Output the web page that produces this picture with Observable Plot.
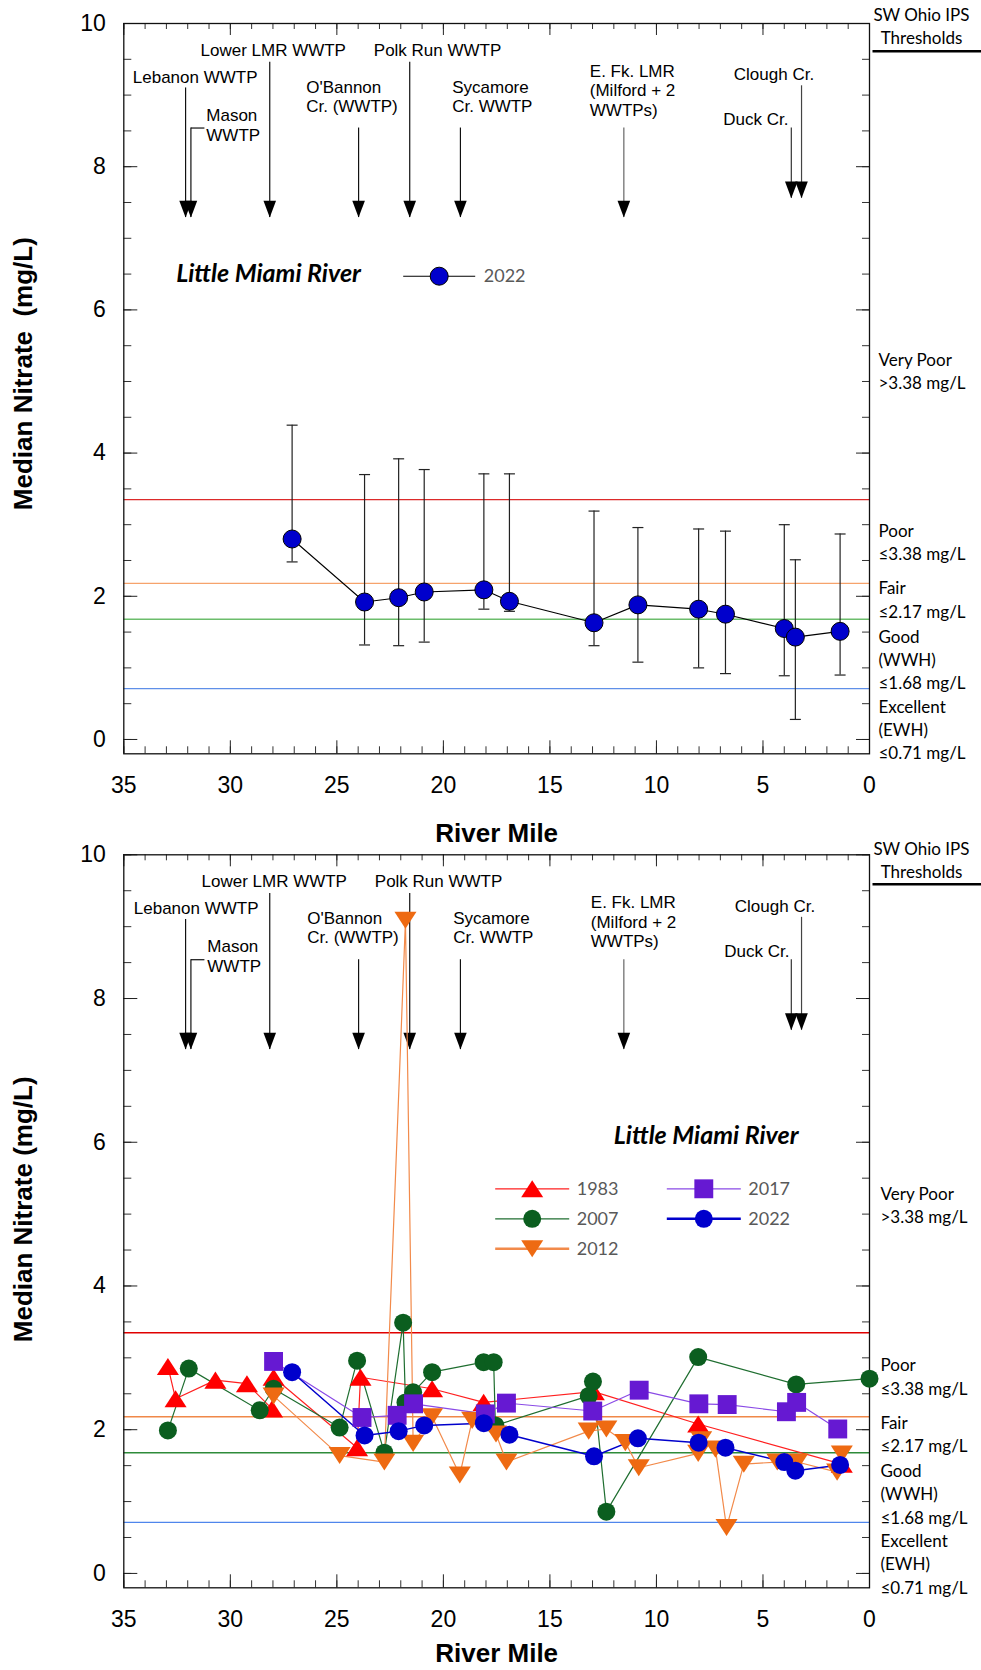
<!DOCTYPE html>
<html><head><meta charset="utf-8">
<script src="https://cdn.jsdelivr.net/npm/d3@7"></script>
<script src="https://cdn.jsdelivr.net/npm/@observablehq/plot@0.6"></script>
<style>
body{margin:0;background:#fff;}
#wrap{position:relative;width:981px;height:1670px;overflow:hidden;background:#fff;}
#wrap svg{position:absolute;left:0;}
</style></head><body><div id="wrap"></div>
<script>
// ---------- DATA ----------
// 2022 (panel 1 and panel 2): river mile, median, error-bar range
const mile2022   = [27.1, 23.7, 22.1, 20.9, 18.1, 16.9, 12.93, 10.87, 8.02, 6.76, 4.0, 3.48, 1.38];
const median2022 = [2.80, 1.92, 1.98, 2.06, 2.09, 1.93, 1.63, 1.88, 1.82, 1.75, 1.55, 1.43, 1.51];
const upper2022  = [4.39, 3.70, 3.92, 3.77, 3.71, 3.71, 3.19, 2.96, 2.94, 2.91, 3.00, 2.51, 2.87];
const lower2022  = [2.48, 1.32, 1.31, 1.36, 1.82, 1.79, 1.31, 1.08, 1.00, 0.92, 0.89, 0.28, 0.90];

const mile1983    = [32.93, 32.57, 30.70, 29.22, 28.04, 27.97, 24.05, 23.89, 20.53, 18.11, 12.94, 8.04, 1.3];
const nitrate1983 = [2.88, 2.43, 2.69, 2.64, 2.29, 2.73, 1.75, 2.73, 2.57, 2.38, 2.53, 2.08, 1.52];

const mile2007    = [32.93, 31.95, 28.62, 27.97, 24.87, 24.05, 22.77, 21.89, 21.78, 21.42, 20.53, 18.11, 17.64, 17.56, 13.18, 12.98, 12.35, 8.04, 3.44, 0.0];
const nitrate2007 = [1.99, 2.85, 2.27, 2.57, 2.03, 2.96, 1.68, 3.49, 2.38, 2.52, 2.80, 2.94, 2.94, 2.06, 2.47, 2.67, 0.86, 3.01, 2.63, 2.71];

const mile2012    = [27.97, 24.87, 22.77, 21.78, 21.42, 20.53, 19.23, 18.65, 17.53, 17.04, 13.18, 12.35, 11.46, 10.83, 8.04, 7.9, 7.23, 6.71, 5.90, 4.33, 3.39, 1.52, 1.3];
const nitrate2012 = [2.47, 1.64, 1.55, 9.09, 1.81, 2.18, 1.37, 2.13, 1.94, 1.55, 1.98, 2.01, 1.82, 1.47, 1.67, 1.86, 1.73, 0.64, 1.52, 1.55, 1.55, 1.41, 1.66];

const mile2017    = [27.97, 23.82, 22.17, 21.40, 18.03, 17.04, 12.99, 10.81, 8.01, 6.68, 3.90, 3.42, 1.49];
const nitrate2017 = [2.95, 2.17, 2.20, 2.36, 2.22, 2.37, 2.26, 2.55, 2.36, 2.35, 2.25, 2.38, 2.01];

// inflows (arrows)
const inflowNames = ["Lebanon WWTP", "Mason\nWWTP", "Lower LMR WWTP", "O'Bannon\nCr. (WWTP)", "Polk Run WWTP",
                     "Sycamore\nCr. WWTP", "E. Fk. LMR\n(Milford + 2\nWWTPs)", "Duck Cr.", "Clough Cr."];
const inflowMiles = [32.1, 31.85, 28.15, 23.98, 21.58, 19.2, 11.53, 3.67, 3.19];

// thresholds
const thresholdValues = [3.35, 2.18, 1.68, 0.71];
const thresholdText = ["Very Poor", ">3.38 mg/L", "Poor", "≤3.38 mg/L", "Fair", "≤2.17 mg/L", "Good", "(WWH)",
                       "≤1.68 mg/L", "Excellent", "(EWH)", "≤0.71 mg/L"];

// ticks
const yTickLabels = [0, 2, 4, 6, 8, 10];
const xTickLabels = [35, 30, 25, 20, 15, 10, 5, 0];
const yMinorTicks = d3.range(0, 10.01, 0.5);
const xMinorTicks = d3.range(0, 36, 1);

// ---------- LAYOUT / STYLE ----------
const ARIAL = "'Liberation Sans', Arial, sans-serif";
const LATO = "Lato, 'Open Sans', sans-serif";
const ML = 123.3, MR = 112, W = 981;
const FW = W - ML - MR;

const inflowTop = [9.10, 8.54, 9.46, 8.54, 9.46, 8.54, 8.54, 8.54, 9.13];
const inflowTip = [7.29, 7.29, 7.29, 7.29, 7.29, 7.29, 7.29, 7.56, 7.56];
const inflowLabel = [
  {dx: 9, dy: 59.2, lh: 20}, {dx: 82.5, dy: 97.5, lh: 20}, {dx: 76.7, dy: 32.5, lh: 20},
  {dx: 182.4, dy: 69.2, lh: 19}, {dx: 250, dy: 32.5, lh: 20}, {dx: 328.4, dy: 69.2, lh: 19},
  {dx: 466, dy: 53.2, lh: 19.7}, {dx: 599.4, dy: 101.9, lh: 20}, {dx: 610, dy: 56.9, lh: 20}
];
const inflowStroke = ["#111", "#111", "#111", "#111", "#111", "#111", "#666", "#333", "#444"];
const thresholdDy = [337, 360, 508, 531.3, 565.3, 588.7, 613.7, 637, 660.3, 683.7, 707, 730.3];

function sym(fn) { return {draw(c, s) { fn(c, Math.sqrt(s / Math.PI)); }}; }
const triUp = sym((c, r) => { const w = 2.45 * r, h = 1.9 * r; c.moveTo(0, -h / 2); c.lineTo(w / 2, h / 2); c.lineTo(-w / 2, h / 2); c.closePath(); });
const triDown = sym((c, r) => { const w = 2.45 * r, h = 1.9 * r; c.moveTo(0, h / 2); c.lineTo(w / 2, -h / 2); c.lineTo(-w / 2, -h / 2); c.closePath(); });
const square = sym((c, r) => { const a = 1.05 * r; c.moveTo(-a, -a); c.lineTo(a, -a); c.lineTo(a, a); c.lineTo(-a, a); c.closePath(); });
const arrowHead = sym((c, r) => { const w = 2.1 * r, h = 2.8 * r; c.moveTo(0, 0); c.lineTo(w / 2, -h); c.lineTo(-w / 2, -h); c.closePath(); });
const capSym = sym((c, r) => { c.moveTo(-r, 0); c.lineTo(r, 0); });
const seg = (a, b) => ({draw(c) { c.moveTo(a, 0); c.lineTo(b, 0); }});

function txt(str, anchor, dx, dy, o = {}) {
  return Plot.text([0], {x: null, y: null, text: () => str, frameAnchor: anchor, dx, dy,
    textAnchor: "start", lineAnchor: "middle", fontFamily: ARIAL, fontSize: 17, fill: "#000", ...o});
}
function glyph(anchor, dx, dy, o) {
  return Plot.dot([0], {x: null, y: null, frameAnchor: anchor, dx, dy, ...o});
}

function basePanel(cfg) {
  const fh = cfg.height - cfg.marginTop - cfg.marginBottom;
  const m = [];
  // threshold lines
  thresholdValues.forEach((v, i) => m.push(Plot.ruleY([v], {stroke: cfg.threshColors[i], strokeWidth: 1.4})));
  // ticks (inward)
  m.push(Plot.tickY(yMinorTicks, {y: d => d, insetRight: FW - 8, stroke: "#333"}));
  m.push(Plot.tickY(yTickLabels, {y: d => d, insetRight: FW - 14, stroke: "#222"}));
  m.push(Plot.tickY(yMinorTicks, {y: d => d, insetLeft: FW - 7, stroke: "#333"}));
  m.push(Plot.tickY(yTickLabels, {y: d => d, insetLeft: FW - 13, stroke: "#222"}));
  m.push(Plot.tickX(xMinorTicks, {x: d => d, insetTop: fh - 7, stroke: "#333"}));
  m.push(Plot.tickX(xTickLabels, {x: d => d, insetTop: fh - 13, stroke: "#222"}));
  m.push(Plot.tickX(xMinorTicks, {x: d => d, insetBottom: fh - 6, stroke: "#333"}));
  m.push(Plot.tickX(xTickLabels, {x: d => d, insetBottom: fh - 12, stroke: "#222"}));
  m.push(Plot.frame({stroke: "#111", strokeWidth: 1.3}));
  // axes labels
  m.push(Plot.axisY({ticks: yTickLabels, tickSize: 0, tickPadding: 18, fontSize: 23, label: null, fontFamily: ARIAL, fill: "#000"}));
  m.push(Plot.axisX({ticks: xTickLabels, tickSize: 0, tickPadding: 23, fontSize: 23, label: null, fontFamily: ARIAL, fill: "#000", tickFormat: d => String(d)}));
  m.push(txt(cfg.yTitle, "left", -100.3, cfg.yTitleDy, {rotate: -90, textAnchor: "middle", fontSize: 26, fontWeight: "bold"}));
  m.push(txt("River Mile", "bottom", 0, cfg.xTitleDy, {textAnchor: "middle", fontSize: 26, fontWeight: "bold"}));
  // inflow arrows
  const arrows = inflowMiles.map((mile, i) => ({mile, top: inflowTop[i], tip: inflowTip[i], s: inflowStroke[i]}));
  arrows.forEach(a => m.push(Plot.ruleX([a], {x: "mile", y1: "top", y2: "tip", stroke: a.s, strokeWidth: 1.2})));
  m.push(Plot.dot(arrows, {x: "mile", y: "tip", symbol: arrowHead, r: 6, fill: "#000", stroke: "none"}));
  m.push(Plot.dot([arrows[1]], {x: "mile", y: "top", symbol: seg(0, 13.5), r: 1, stroke: "#111", strokeWidth: 1.2, fill: "none"}));
  inflowNames.forEach((name, i) => {
    const L = inflowLabel[i];
    name.split("\n").forEach((line, k) => m.push(txt(line, "top-left", L.dx + cfg.inflowDx, L.dy + k * L.lh, {lineAnchor: "bottom"})));
  });
  // right-side thresholds text
  m.push(txt("SW Ohio IPS", "top-right", 52, -8 + cfg.rightDyOff, {textAnchor: "middle", fontFamily: LATO}));
  m.push(txt("Thresholds", "top-right", 52, 15 + cfg.rightDyOff, {textAnchor: "middle", fontFamily: LATO}));
  m.push(glyph("top-right", 0, 27.7 + cfg.rightDyOff * 0.6, {symbol: seg(3, 112), r: 1, stroke: "#000", strokeWidth: 2.6, fill: "none"}));
  thresholdText.forEach((t, i) => m.push(txt(t, "top-right", cfg.rightDx, thresholdDy[i] + cfg.rightDyOff, {fontFamily: LATO})));
  return m;
}

function render(cfg, marks) {
  const svg = Plot.plot({
    width: W, height: cfg.height, marginTop: cfg.marginTop, marginBottom: cfg.marginBottom,
    marginLeft: ML, marginRight: MR,
    x: {domain: [35, 0]}, y: {domain: [-0.2, 10]},
    style: {background: "transparent", overflow: "visible", fontFamily: ARIAL, color: "#000"},
    marks: [...basePanel(cfg), ...marks]
  });
  svg.style.top = cfg.top + "px";
  document.getElementById("wrap").appendChild(svg);
}

// ---------- PANEL 1 ----------
const d2022 = mile2022.map((m, i) => ({mile: m, v: median2022[i], hi: upper2022[i], lo: lower2022[i]}));
const cfg1 = {top: 0, height: 841, marginTop: 23, marginBottom: 87.7, yTitle: "Median Nitrate  (mg/L)", yTitleDy: -15,
  xTitleDy: 80, threshColors: ["#dc2a2a", "#f6a36c", "#6cbd6c", "#5f8fe8"], rightDx: 9, rightDyOff: 0, inflowDx: 0};
render(cfg1, [
  Plot.ruleX(d2022, {x: "mile", y1: "lo", y2: "hi", stroke: "#222", strokeWidth: 1.2}),
  Plot.dot(d2022, {x: "mile", y: "hi", symbol: capSym, r: 5.5, stroke: "#222", strokeWidth: 1.2, fill: "none"}),
  Plot.dot(d2022, {x: "mile", y: "lo", symbol: capSym, r: 5.5, stroke: "#222", strokeWidth: 1.2, fill: "none"}),
  Plot.line(d2022, {x: "mile", y: "v", stroke: "#000", strokeWidth: 1.1}),
  Plot.dot(d2022, {x: "mile", y: "v", r: 9, fill: "#0000cc", stroke: "#000", strokeWidth: 1}),
  txt("Little Miami River", "top-left", 52.4, 250.3, {fontFamily: LATO, fontSize: 25, fontWeight: "bold", fontStyle: "italic"}),
  glyph("top-left", 315.4, 252.7, {symbol: seg(-36, 36), r: 1, stroke: "#000", strokeWidth: 1.1, fill: "none"}),
  glyph("top-left", 315.4, 252.7, {r: 9, fill: "#0000cc", stroke: "#000", strokeWidth: 1}),
  txt("2022", "top-left", 360, 253, {fontFamily: LATO, fontSize: 18, fill: "#595959"})
]);

// ---------- PANEL 2 ----------
const series = [
  {year: "1983", miles: mile1983, vals: nitrate1983, color: "#ff0000", line: "#ff2020", lw: 1.2, lgw: 1.3, symbol: triUp, r: 9},
  {year: "2007", miles: mile2007, vals: nitrate2007, color: "#0b5e1f", line: "#1f6e30", lw: 1.2, lgw: 1.3, symbol: "circle", r: 9},
  {year: "2012", miles: mile2012, vals: nitrate2012, color: "#ee6a12", line: "#f28a4a", lw: 1.2, lgw: 2.4, symbol: triDown, r: 9},
  {year: "2017", miles: mile2017, vals: nitrate2017, color: "#6619d2", line: "#8a4ae6", lw: 1.2, lgw: 1.3, symbol: square, r: 9},
  {year: "2022", miles: mile2022, vals: median2022, color: "#0000cc", line: "#0000cc", lw: 1.5, lgw: 2.6, symbol: "circle", r: 9}
];
const cfg2 = {top: 841, height: 829, marginTop: 13.3, marginBottom: 82.7, yTitle: "Median Nitrate (mg/L)", yTitleDy: -12,
  xTitleDy: 66, threshColors: ["#e00000", "#f08848", "#2e8b3a", "#4f86ec"], rightDx: 11, rightDyOff: 3, inflowDx: 1};
const lineMarks = series.map(s => Plot.line(s.miles.map((m, i) => ({m, v: s.vals[i]})), {x: "m", y: "v", stroke: s.line, strokeWidth: s.lw}));
const dotMarks = series.map(s => Plot.dot(s.miles.map((m, i) => ({m, v: s.vals[i]})), {x: "m", y: "v", symbol: s.symbol, r: s.r, fill: s.color, stroke: "none"}));
const legendPos = [[408.4, 334], [408.4, 364], [408.4, 394], [580, 334], [580, 364]];
const legendMarks = [];
series.forEach((s, i) => {
  const [dx, dy] = legendPos[i];
  legendMarks.push(glyph("top-left", dx, dy, {symbol: seg(-37, 37), r: 1, stroke: s.line, strokeWidth: s.lgw, fill: "none"}));
  legendMarks.push(glyph("top-left", dx, dy, {symbol: s.symbol, r: s.r, fill: s.color, stroke: "none"}));
  legendMarks.push(txt(s.year, "top-left", dx + 44.5, dy + 0.7, {fontFamily: LATO, fontSize: 18, fill: "#595959"}));
});
render(cfg2, [
  ...lineMarks, ...dotMarks,
  txt("Little Miami River", "top-left", 490, 280.7, {fontFamily: LATO, fontSize: 25, fontWeight: "bold", fontStyle: "italic"}),
  ...legendMarks
]);
</script></body></html>
